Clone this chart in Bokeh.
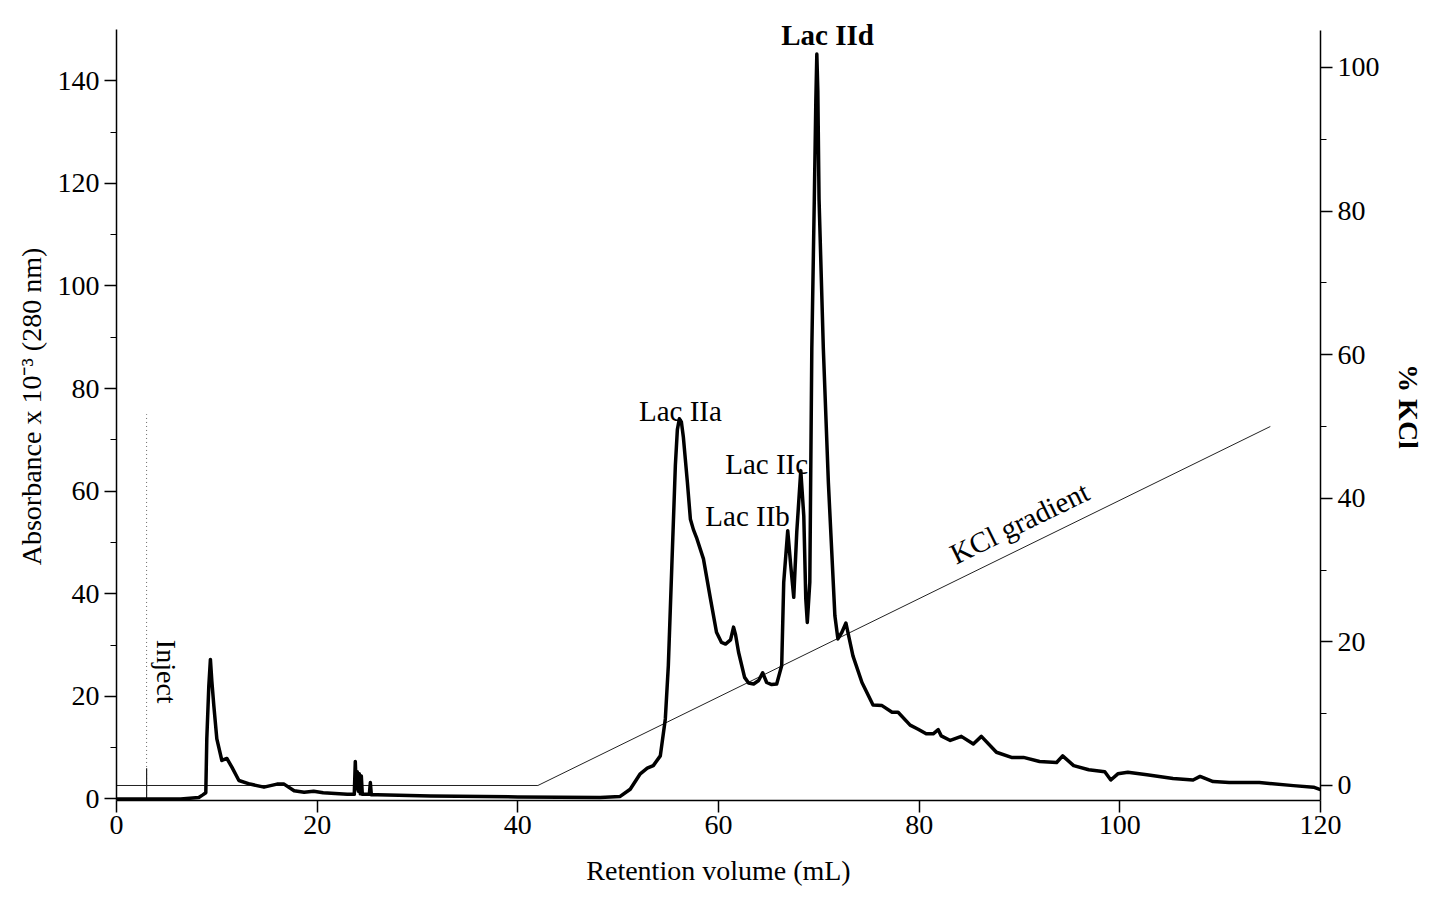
import math
from bokeh.plotting import figure
from bokeh.models import Range1d, LinearAxis, FixedTicker
from bokeh.core.properties import value
from bokeh.embed import file_html
from bokeh.resources import INLINE

# ---------------- data ----------------
volume_ml = [0, 6.4, 8.2, 8.6, 8.9, 9.0, 9.2, 9.36, 9.5, 9.7, 10.0, 10.5, 11.0, 11.5,
             12.2, 13.3, 14.7, 16.0, 16.7, 17.7, 18.7, 19.65, 20.6, 23.0, 23.7, 23.8,
             23.9, 24.0, 24.1, 24.2, 24.3, 24.4, 24.5, 24.7, 25.2, 25.3, 25.4, 26.0,
             31.3, 40.0, 48.2, 50.2, 51.2, 52.2, 52.9, 53.5, 54.2, 54.7, 55.0, 55.35,
             55.7, 55.9, 56.1, 56.3, 56.5, 56.9, 57.2, 57.5, 57.8, 58.5, 59.2, 59.8, 60.3,
             60.7, 61.2, 61.5, 61.7, 62.0, 62.6, 63.0, 63.5, 64.0, 64.4, 64.8, 65.3, 65.8,
             66.3, 66.5, 66.9, 67.2, 67.5, 67.8, 68.2, 68.5, 68.7, 68.85, 69.1, 69.3,
             69.55, 69.7, 69.8, 69.9, 70.02, 70.45, 70.95, 71.6, 71.9, 72.3, 72.7, 73.4,
             74.3, 75.4, 76.3, 77.3, 77.9, 79.1, 79.9, 80.7, 81.4, 81.9, 82.2, 83.1,
             84.2, 85.4, 86.2, 87.7, 89.2, 90.4, 92.0, 93.7, 94.3, 95.4, 96.9, 98.5,
             99.1, 99.8, 100.8, 102.7, 105.3, 107.3, 108.0, 109.3, 110.9, 113.9, 117.3,
             119.3, 120.0]
absorbance = [0.0, 0.0, 0.3, 0.8, 1.2, 11.7, 22.0, 27.2, 23.0, 18.2, 11.7, 7.5, 7.9, 6.2,
              3.6, 2.9, 2.3, 2.9, 2.9, 1.6, 1.3, 1.5, 1.2, 0.9, 0.9, 7.3,
              2.0, 5.3, 1.5, 4.9, 1.0, 4.5, 0.9, 0.9, 0.9, 3.2, 0.8, 0.8,
              0.6, 0.4, 0.3, 0.5, 1.9, 4.9, 6.0, 6.5, 8.4, 15.6, 26.0, 45.5,
              65.0, 72.0, 74.1, 73.5, 70.5, 61.7, 54.5, 52.5, 51.0, 46.8, 39.0, 32.5, 30.5,
              30.2, 31.0, 33.5, 32.0, 28.6, 23.7, 22.6, 22.4, 23.1, 24.6, 22.7, 22.3, 22.4,
              26.0, 42.2, 52.3, 45.5, 39.3, 52.0, 64.0, 55.2, 39.0, 34.4, 42.2, 87.7,
              117.0, 136.0, 145.2, 138.0, 117.0, 87.7, 61.7, 35.7, 31.2, 32.5, 34.3, 27.9,
              22.7, 18.3, 18.2, 16.9, 16.9, 14.4, 13.6, 12.7, 12.7, 13.5, 12.3, 11.4,
              12.2, 10.7, 12.2, 9.1, 8.1, 8.1, 7.3, 7.1, 8.4, 6.5, 5.7, 5.3,
              3.7, 4.9, 5.2, 4.7, 4.0, 3.7, 4.4, 3.4, 3.2, 3.2, 2.6,
              2.3, 1.8]

kcl_volume = [0, 42, 115]
kcl_percent = [0, 0, 50]

inject_volume = 3.0
inject_top = 75
inject_solid_top = 6

peak_labels = ["Lac IIa", "Lac IIb", "Lac IIc"]
peak_label_x = [56.2, 62.9, 64.8]
peak_label_y = [75.6, 55.2, 65.3]
main_label = ["Lac IId"]
main_label_x = [70.87]
main_label_y = [148.9]

left_ticks = [0, 20, 40, 60, 80, 100, 120, 140]
left_minor = [10, 30, 50, 70, 90, 110, 130]
right_ticks = [0, 20, 40, 60, 80, 100]
right_minor = [10, 30, 50, 70, 90]
x_ticks = [0, 20, 40, 60, 80, 100, 120]

FONT = "Liberation Serif"

p = figure(width=1426, height=900, output_backend="svg", toolbar_location=None,
           x_range=Range1d(0, 120), y_range=Range1d(-0.3, 153.3),
           min_border_left=116, min_border_right=105, min_border_top=12,
           min_border_bottom=100, outline_line_color=None)
p.extra_y_ranges = {"kcl": Range1d(-2.09, 107.66)}
p.xgrid.grid_line_color = None
p.ygrid.grid_line_color = None

left_axis = p.yaxis[0]
bottom_axis = p.xaxis[0]

right_axis = LinearAxis(y_range_name="kcl", axis_label="% KCl",
                        bounds=(-2.09, 105.15))
p.add_layout(right_axis, "right")

bottom_axis.axis_label = "Retention volume (mL)"
left_axis.axis_label = "Absorbance x 10\u207b\u00b3 (280 nm)"
left_axis.bounds = (-0.3, 150)

bottom_axis.ticker = FixedTicker(ticks=x_ticks)
left_axis.ticker = FixedTicker(ticks=left_ticks, minor_ticks=left_minor)
right_axis.ticker = FixedTicker(ticks=right_ticks, minor_ticks=right_minor)

for ax in [bottom_axis, left_axis, right_axis]:
    ax.axis_line_color = "black"
    ax.axis_line_width = 1.5
    ax.major_tick_line_color = "black"
    ax.major_tick_line_width = 1.5
    ax.minor_tick_line_color = "black"
    ax.minor_tick_line_width = 1.2
    ax.major_tick_out = 12
    ax.major_tick_in = 0
    ax.minor_tick_out = 6
    ax.minor_tick_in = 0
    ax.major_label_text_font = FONT
    ax.major_label_text_font_size = "28px"
    ax.major_label_text_color = "black"
    ax.axis_label_text_font = FONT
    ax.axis_label_text_font_size = "28px"
    ax.axis_label_text_font_style = "normal"
    ax.axis_label_text_color = "black"

bottom_axis.major_label_standoff = 3
bottom_axis.axis_label_standoff = 18
left_axis.major_label_standoff = 5
left_axis.axis_label_standoff = 8
right_axis.major_label_standoff = 5
right_axis.axis_label_standoff = 10
right_axis.axis_label_text_font_style = "bold"

# KCl gradient
p.line(kcl_volume, kcl_percent, y_range_name="kcl", line_color="#222222", line_width=1)

# injection marker
p.segment(x0=[inject_volume], y0=[0], x1=[inject_volume], y1=[inject_top],
          line_color="#666666", line_width=1, line_dash="1 3")
p.segment(x0=[inject_volume], y0=[0], x1=[inject_volume], y1=[inject_solid_top],
          line_color="#222222", line_width=1.2)

# chromatogram
p.line(volume_ml, absorbance, line_color="black", line_width=3.5, line_join="round")

# annotations
p.text(x=peak_label_x, y=peak_label_y, text=peak_labels,
       text_font=value(FONT), text_font_size="29px", text_align="center",
       text_baseline="alphabetic", text_color="black")
p.text(x=main_label_x, y=main_label_y, text=main_label,
       text_font=value(FONT), text_font_size="29px", text_font_style="bold",
       text_align="center", text_baseline="alphabetic", text_color="black")
p.text(x=[5.0], y=[24.8], text=["Inject"], angle=-math.pi / 2,
       text_font=value(FONT), text_font_size="28px", text_align="center",
       text_baseline="middle", text_color="black")
p.text(x=[90.0], y=[36.6], text=["KCl gradient"], angle=math.radians(26.1),
       y_range_name="kcl", text_font=value(FONT), text_font_size="29px",
       text_align="center", text_baseline="middle", text_color="black")

open("out.html", "w").write(file_html(p, INLINE))
